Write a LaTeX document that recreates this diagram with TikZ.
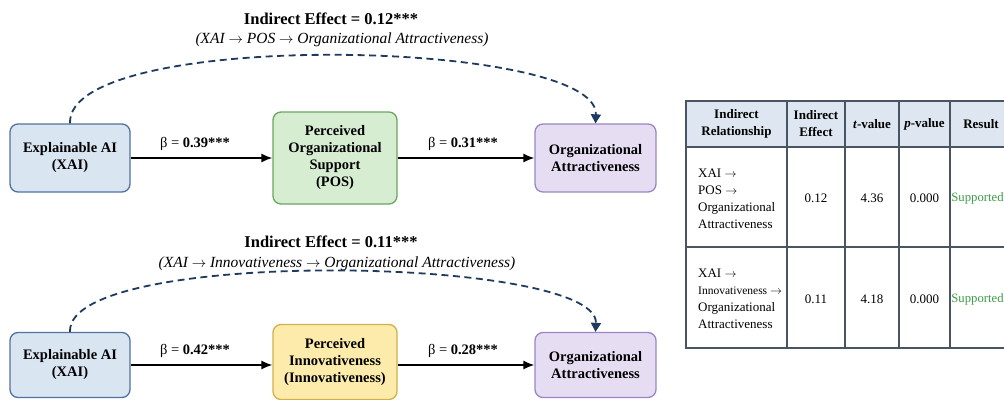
\documentclass[tikz,border=0pt]{standalone}
\usepackage{fontspec}
\setmainfont{Liberation Serif}
\usetikzlibrary{arrows.meta,calc}
\definecolor{xaifill}{HTML}{DAE5F2}
\definecolor{xaidraw}{HTML}{4F739E}
\definecolor{posfill}{HTML}{D7EDD2}
\definecolor{posdraw}{HTML}{6BA561}
\definecolor{innfill}{HTML}{FCEBAA}
\definecolor{inndraw}{HTML}{D2B04A}
\definecolor{oafill}{HTML}{E7DDF3}
\definecolor{oadraw}{HTML}{9A86C4}
\definecolor{navy}{HTML}{1E3A5F}
\definecolor{hdrfill}{HTML}{DEE7F1}
\definecolor{tline}{HTML}{4A5563}
\definecolor{okgreen}{HTML}{3C9A45}
\begin{document}
\begin{tikzpicture}[x=1pt,y=-1pt,
  box/.style={rounded corners=8pt, line width=1.3pt, align=center, inner sep=0pt,
    font=\fontsize{14.5}{17}\selectfont\bfseries},
  xaibox/.style={box, fill=xaifill, draw=xaidraw, minimum width=120pt, minimum height=68pt},
  posbox/.style={box, fill=posfill, draw=posdraw, minimum width=124pt, minimum height=92pt},
  innbox/.style={box, fill=innfill, draw=inndraw, minimum width=124pt, minimum height=75pt},
  oabox/.style={box, fill=oafill, draw=oadraw, minimum width=121pt, minimum height=68pt},
  arr/.style={draw=black, line width=1.4pt, -{Latex[length=11pt,width=9pt]}},
  dasharr/.style={draw=navy, line width=1.8pt, dash pattern=on 7pt off 4.5pt,
    -{Triangle[length=9pt,width=10pt]}},
  titlef/.style={font=\fontsize{16.5}{19}\selectfont\bfseries, inner sep=0pt},
  subf/.style={font=\fontsize{15.5}{17}\selectfont\itshape, inner sep=0pt},
  betaf/.style={font=\fontsize{14.5}{17}\selectfont, inner sep=0pt},
  tline/.style={draw=tline, line width=1.2pt},
  hdrf/.style={font=\fontsize{13}{17}\selectfont\bfseries, align=center, inner sep=0pt},
  cellf/.style={font=\fontsize{13}{17}\selectfont, align=center, inner sep=0pt},
  relf/.style={font=\fontsize{13}{17}\selectfont, align=left, inner sep=0pt, anchor=west},
  resf/.style={font=\fontsize{12.7}{17}\selectfont, text=okgreen, inner sep=0pt}
]
\useasboundingbox (0,0) rectangle (1004,399);
\clip (0,0) rectangle (1004,399);

% ---------- top model ----------
\node[titlef] (t1) at (331,19) {Indirect Effect = 0.12***};
\node[subf] (s1) at (342,40) {(XAI $\rightarrow$ POS $\rightarrow$ Organizational Attractiveness)};

\node[xaibox] (xai1) at (70,158) {Explainable AI\\(XAI)};
\node[posbox] (pos)  at (335,158) {Perceived\\Organizational\\Support\\(POS)};
\node[oabox]  (oa1)  at (595.5,158) {Organizational\\Attractiveness};

\draw[arr] (xai1) -- (pos);
\draw[arr] (pos) -- (oa1);
\node[betaf] (b1) at (195,144) {β = \textbf{0.39***}};
\node[betaf] (b2) at (463,144) {β = \textbf{0.31***}};

\draw[dasharr] (xai1.north) .. controls ($(xai1.north)+(-4,-95)$) and ($(oa1.north)+(4,-85)$) .. (oa1.north);

% ---------- bottom model ----------
\node[titlef] (t2) at (331,242) {Indirect Effect = 0.11***};
\node[subf] (s2) at (337,264) {(XAI $\rightarrow$ Innovativeness $\rightarrow$ Organizational Attractiveness)};

\node[xaibox, minimum height=65pt] (xai2) at (70,365) {Explainable AI\\(XAI)};
\node[innbox] (inn)  at (335,362) {Perceived\\Innovativeness\\(Innovativeness)};
\node[oabox, minimum height=65pt]  (oa2)  at (595.5,365) {Organizational\\Attractiveness};

\draw[arr] (xai2.east) -- (inn.west |- xai2.east);
\draw[arr] (inn.east |- oa2.west) -- (oa2.west);
\node[betaf] (b3) at (195,351) {β = \textbf{0.42***}};
\node[betaf] (b4) at (463,351) {β = \textbf{0.28***}};

\draw[dasharr] (xai2.north) .. controls ($(xai2.north)+(-4,-85)$) and ($(oa2.north)+(4,-76)$) .. (oa2.north);

% ---------- table ----------
\fill[hdrfill] (686,101) rectangle (1012,147);
\draw[tline] (686,101) rectangle (1012,348);
\draw[tline] (686,147) -- (1012,147);
\draw[tline] (686,247) -- (1012,247);
\foreach \cx in {787,845,899,950} \draw[tline] (\cx,101) -- (\cx,348);

\node[hdrf] (h1) at (736.5,124) {Indirect\\Relationship};
\node[hdrf] (h2) at (816,124) {Indirect\\Effect};
\node[hdrf] (h3) at (872,124) {\textit{t}-value};
\node[hdrf] (h4) at (924.5,124) {\textit{p}-value};
\node[hdrf] (h5) at (981,124) {Result};

\node[relf] (r1c1) at (698,199) {XAI $\rightarrow$\\POS $\rightarrow$\\Organizational\\Attractiveness};
\node[cellf] (r1c2) at (816,198) {0.12};
\node[cellf] (r1c3) at (872,198) {4.36};
\node[cellf] (r1c4) at (924.5,198) {0.000};
\node[resf]  (r1c5) at (977.5,198) {Supported};

\node[relf] (r2c1) at (698,299) {XAI $\rightarrow$\\{\fontsize{11.5}{17}\selectfont Innovativeness $\rightarrow$}\\Organizational\\Attractiveness};
\node[cellf] (r2c2) at (816,299) {0.11};
\node[cellf] (r2c3) at (872,299) {4.18};
\node[cellf] (r2c4) at (924.5,299) {0.000};
\node[resf]  (r2c5) at (977.5,299) {Supported};
\end{tikzpicture}
\end{document}
